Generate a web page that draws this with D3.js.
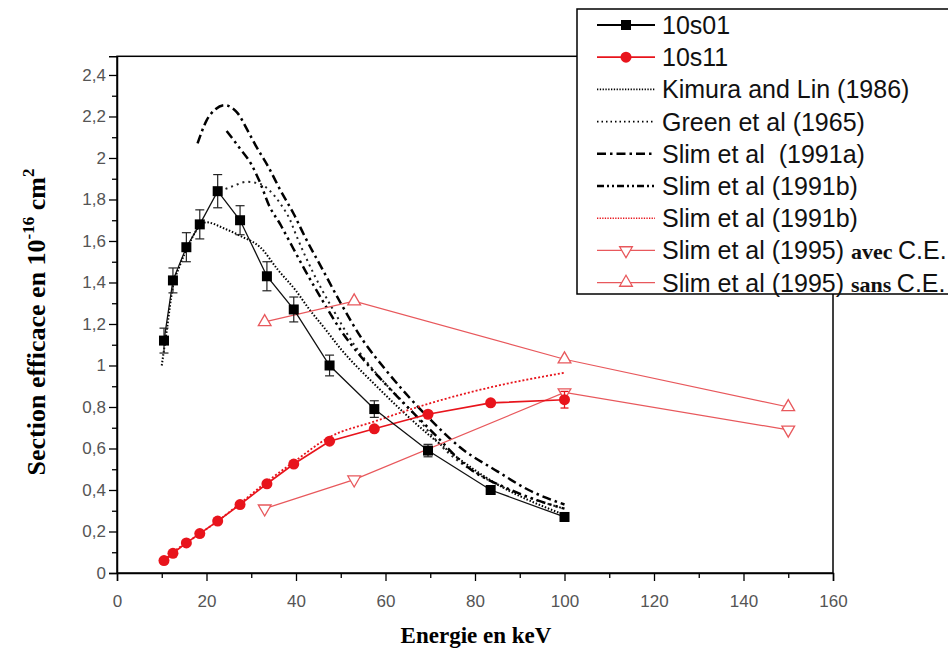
<!DOCTYPE html>
<html><head><meta charset="utf-8">
<script src="https://cdn.jsdelivr.net/npm/d3@7"></script>
<style>
html,body{margin:0;padding:0;background:#fff;}
svg{display:block;}
</style></head>
<body><svg id="c" width="948" height="652"></svg>
<script>
// ---------------- data ----------------
const energy = [10.5,12.5,15.5,18.5,22.5,27.5,33.5,39.5,47.5,57.5,69.5,83.5,100];
const s10s01 = [1.12,1.41,1.57,1.68,1.84,1.70,1.43,1.27,1.00,0.79,0.59,0.40,0.27];
const err10s01 = [0.06,0.06,0.07,0.07,0.08,0.07,0.07,0.06,0.05,0.04,0.03,0.02,0.02];
const s10s11 = [0.06,0.095,0.145,0.19,0.25,0.33,0.43,0.525,0.635,0.695,0.765,0.82,0.835];
const err10s11 = [0,0,0,0,0,0,0,0,0,0,0,0,0.04];

const kimuraX = [10,11,12.5,14,16,18,20,24,28,32,36,40,43,46,50,58,70,84,100];
const kimuraY = [1.0,1.15,1.38,1.48,1.58,1.66,1.69,1.66,1.62,1.57,1.46,1.36,1.27,1.19,1.08,0.90,0.66,0.44,0.28];
const greenX = [23,26,29,32,34,36.5,38.7,40,44,48,53,58,65,74,82,90,100];
const greenY = [1.84,1.865,1.885,1.875,1.845,1.78,1.70,1.63,1.44,1.28,1.10,0.96,0.80,0.58,0.46,0.38,0.31];
const slimAX = [18,20,22,24,27,29,31,34,36.5,39.5,42,46,50,55,60,70,77,85,92,100];
const slimAY = [2.07,2.18,2.235,2.255,2.215,2.14,2.06,1.95,1.845,1.73,1.62,1.46,1.30,1.12,0.98,0.74,0.60,0.49,0.40,0.33];
const slimBX = [24.5,27.5,30,32,34,36.5,38,42,46,50,55,60,70,79,87,94,100];
const slimBY = [2.13,2.045,1.97,1.88,1.77,1.68,1.62,1.46,1.31,1.17,1.03,0.91,0.69,0.50,0.41,0.35,0.31];
const slimBredX = [10.5,12.5,15.5,18.5,22.5,27.5,33.5,39.5,47.5,57.5,69.5,83.5,100];
const slimBredY = [0.06,0.10,0.145,0.19,0.25,0.335,0.44,0.535,0.655,0.73,0.815,0.895,0.965];
const avecX = [33,53,100,150];
const avecY = [0.31,0.45,0.87,0.69];
const sansX = [33,53,100,150];
const sansY = [1.21,1.31,1.03,0.80];

const xTicks = [0,20,40,60,80,100,120,140,160];
const yTicks = [0,0.2,0.4,0.6,0.8,1,1.2,1.4,1.6,1.8,2,2.2,2.4];
const legendLabels = ["10s01","10s11","Kimura and Lin (1986)","Green et al (1965)","Slim et al  (1991a)","Slim et al (1991b)","Slim et al (1991b)","Slim et al (1995) ","Slim et al (1995) "];

// ---------------- drawing ----------------
const svg = d3.select("#c");
const RED = "#e8141c", PINK = "#e8585c";
const x = d3.scaleLinear().domain([0,160]).range([117,833]);
const y = d3.scaleLinear().domain([0,2.49]).range([573,56.3]);

const zip = (xs,ys)=>xs.map((v,i)=>[v,ys[i]]);
const smooth = d3.line().x(d=>x(d[0])).y(d=>y(d[1])).curve(d3.curveMonotoneX);
const straight = d3.line().x(d=>x(d[0])).y(d=>y(d[1]));

// frame
svg.append("rect").attr("x",x(0)).attr("y",y(2.49)).attr("width",x(160)-x(0)).attr("height",y(0)-y(2.49))
  .attr("fill","none").attr("stroke","#000").attr("stroke-width",1.5);

// axes
const xAxis = d3.axisBottom(x).tickValues(xTicks).tickSize(8).tickPadding(14).tickFormat(d3.format("d"));
const gx = svg.append("g").attr("transform",`translate(0,${y(0)})`).call(xAxis);
svg.append("g").attr("transform",`translate(0,${y(0)})`)
  .call(d3.axisBottom(x).tickValues(d3.range(10,160,20)).tickSize(5).tickFormat(""))
  .select(".domain").remove();
const fmtY = d=> d3.format(".1~f")(d).replace(".",",");
const gy = svg.append("g").attr("transform",`translate(${x(0)},0)`)
  .call(d3.axisLeft(y).tickValues(yTicks).tickSize(8).tickPadding(3).tickFormat(fmtY));
svg.append("g").attr("transform",`translate(${x(0)},0)`)
  .call(d3.axisLeft(y).tickValues(d3.range(0.1,2.5,0.2)).tickSize(5).tickFormat(""))
  .select(".domain").remove();
svg.selectAll(".domain").attr("stroke","#000").attr("stroke-width",1.5);
svg.selectAll(".tick line").attr("stroke","#000").attr("stroke-width",1.3);
[gx,gy].forEach(g=>g.selectAll("text").attr("font-family","Liberation Sans, Arial, sans-serif")
  .attr("font-size",17).attr("fill","#555"));

// axis titles
svg.append("text").attr("x",476).attr("y",643).attr("text-anchor","middle")
  .attr("font-family","Liberation Serif, Times New Roman, serif").attr("font-weight","bold").attr("font-size",23)
  .text("Energie en keV");
const yl = svg.append("text").attr("transform","translate(45,322) rotate(-90)").attr("text-anchor","middle")
  .attr("font-family","Liberation Serif, Times New Roman, serif").attr("font-weight","bold").attr("font-size",26);
yl.append("tspan").text("Section efficace en 10");
yl.append("tspan").attr("dy",-11).attr("font-size",17).text("-16");
yl.append("tspan").attr("dy",11).text(" cm");
yl.append("tspan").attr("dy",-11).attr("font-size",17).text("2");

// ---------------- series ----------------
const plot = svg.append("g");
// theoretical curves
plot.append("path").datum(zip(kimuraX,kimuraY)).attr("d",smooth).attr("fill","none")
  .attr("stroke","#000").attr("stroke-width",2).attr("stroke-dasharray","1.5,1.8");
plot.append("path").datum(zip(greenX,greenY)).attr("d",smooth).attr("fill","none")
  .attr("stroke","#222").attr("stroke-width",2).attr("stroke-dasharray","2,4");
plot.append("path").datum(zip(slimAX,slimAY)).attr("d",smooth).attr("fill","none")
  .attr("stroke","#000").attr("stroke-width",2.5).attr("stroke-dasharray","9,4,2.5,4");
plot.append("path").datum(zip(slimBX,slimBY)).attr("d",smooth).attr("fill","none")
  .attr("stroke","#000").attr("stroke-width",2.5).attr("stroke-dasharray","9,4,2.5,4,2.5,4");
plot.append("path").datum(zip(slimBredX,slimBredY)).attr("d",smooth).attr("fill","none")
  .attr("stroke",RED).attr("stroke-width",1.8).attr("stroke-dasharray","2,2");

// Slim 1995
const triUp = d3.symbol().type(d3.symbolTriangle).size(70);
plot.append("path").datum(zip(avecX,avecY)).attr("d",straight).attr("fill","none").attr("stroke",PINK).attr("stroke-width",1.2);
plot.append("path").datum(zip(sansX,sansY)).attr("d",straight).attr("fill","none").attr("stroke",PINK).attr("stroke-width",1.2);
plot.selectAll(".avec").data(zip(avecX,avecY)).join("path")
  .attr("transform",d=>`translate(${x(d[0])},${y(d[1])}) rotate(180)`).attr("d",triUp)
  .attr("fill","#fff").attr("stroke",PINK).attr("stroke-width",1.3);
plot.selectAll(".sans").data(zip(sansX,sansY)).join("path")
  .attr("transform",d=>`translate(${x(d[0])},${y(d[1])})`).attr("d",triUp)
  .attr("fill","#fff").attr("stroke",PINK).attr("stroke-width",1.3);

// 10s11
const d11 = energy.map((e,i)=>({e,v:s10s11[i],er:err10s11[i]}));
plot.append("path").datum(d11.map(d=>[d.e,d.v])).attr("d",straight).attr("fill","none").attr("stroke",RED).attr("stroke-width",1.7);
d11.filter(d=>d.er>0).forEach(d=>{
  const g=plot.append("g").attr("stroke",RED).attr("stroke-width",1.3);
  g.append("line").attr("x1",x(d.e)).attr("x2",x(d.e)).attr("y1",y(d.v-d.er)).attr("y2",y(d.v+d.er));
  [d.v-d.er,d.v+d.er].forEach(v=>g.append("line").attr("x1",x(d.e)-4).attr("x2",x(d.e)+4).attr("y1",y(v)).attr("y2",y(v)));
});
plot.selectAll(".c11").data(d11).join("circle").attr("cx",d=>x(d.e)).attr("cy",d=>y(d.v)).attr("r",5.5).attr("fill",RED);

// 10s01
const d01 = energy.map((e,i)=>({e,v:s10s01[i],er:err10s01[i]}));
plot.append("path").datum(d01.map(d=>[d.e,d.v])).attr("d",straight).attr("fill","none").attr("stroke","#111").attr("stroke-width",1.3);
d01.forEach(d=>{
  const g=plot.append("g").attr("stroke","#222").attr("stroke-width",1.2);
  g.append("line").attr("x1",x(d.e)).attr("x2",x(d.e)).attr("y1",y(d.v-d.er)).attr("y2",y(d.v+d.er));
  [d.v-d.er,d.v+d.er].forEach(v=>g.append("line").attr("x1",x(d.e)-4.5).attr("x2",x(d.e)+4.5).attr("y1",y(v)).attr("y2",y(v)));
});
plot.selectAll(".s01").data(d01).join("rect").attr("x",d=>x(d.e)-5).attr("y",d=>y(d.v)-5)
  .attr("width",10).attr("height",10).attr("fill","#000");

// ---------------- legend ----------------
const lg = svg.append("g");
lg.append("rect").attr("x",577).attr("y",9).attr("width",380).attr("height",285)
  .attr("fill","#fff").attr("stroke","#000").attr("stroke-width",1.5);
const styles = [
  {stroke:"#000",w:1.8,dash:null,marker:"sq"},
  {stroke:RED,w:1.8,dash:null,marker:"ci"},
  {stroke:"#000",w:1.8,dash:"1.3,1.5",marker:null},
  {stroke:"#000",w:1.8,dash:"1.5,3",marker:null},
  {stroke:"#000",w:2.5,dash:"9,4,2.5,4",marker:null},
  {stroke:"#000",w:2.5,dash:"7,3,2,3,2,3",marker:null},
  {stroke:RED,w:1.5,dash:"1.3,1.3",marker:null},
  {stroke:PINK,w:1.2,dash:null,marker:"dn"},
  {stroke:PINK,w:1.2,dash:null,marker:"up"}
];
legendLabels.forEach((lab,i)=>{
  const cy = 25 + i*32.2;
  const st = styles[i];
  const g = lg.append("g");
  g.append("line").attr("x1",597).attr("x2",655).attr("y1",cy).attr("y2",cy).attr("stroke",st.stroke)
    .attr("stroke-width",st.w).attr("stroke-dasharray",st.dash);
  if(st.marker==="sq") g.append("rect").attr("x",621).attr("y",cy-5).attr("width",10).attr("height",10).attr("fill","#000");
  if(st.marker==="ci") g.append("circle").attr("cx",626).attr("cy",cy).attr("r",5.5).attr("fill",RED);
  if(st.marker==="dn") g.append("path").attr("transform",`translate(626,${cy}) rotate(180)`).attr("d",triUp).attr("fill","#fff").attr("stroke",PINK).attr("stroke-width",1.3);
  if(st.marker==="up") g.append("path").attr("transform",`translate(626,${cy})`).attr("d",triUp).attr("fill","#fff").attr("stroke",PINK).attr("stroke-width",1.3);
  const t = g.append("text").attr("x",662).attr("y",cy+9).attr("font-family","Liberation Sans, Arial, sans-serif")
    .attr("font-size",25).attr("fill","#111").attr("xml:space","preserve");
  t.append("tspan").text(lab);
  if(i===7||i===8){
    t.append("tspan").attr("font-family","Liberation Serif, Times New Roman, serif").attr("font-weight","bold")
      .attr("font-size",22).text(i===7?"avec ":"sans ");
    t.append("tspan").text("C.E.");
  }
});
</script></body></html>
